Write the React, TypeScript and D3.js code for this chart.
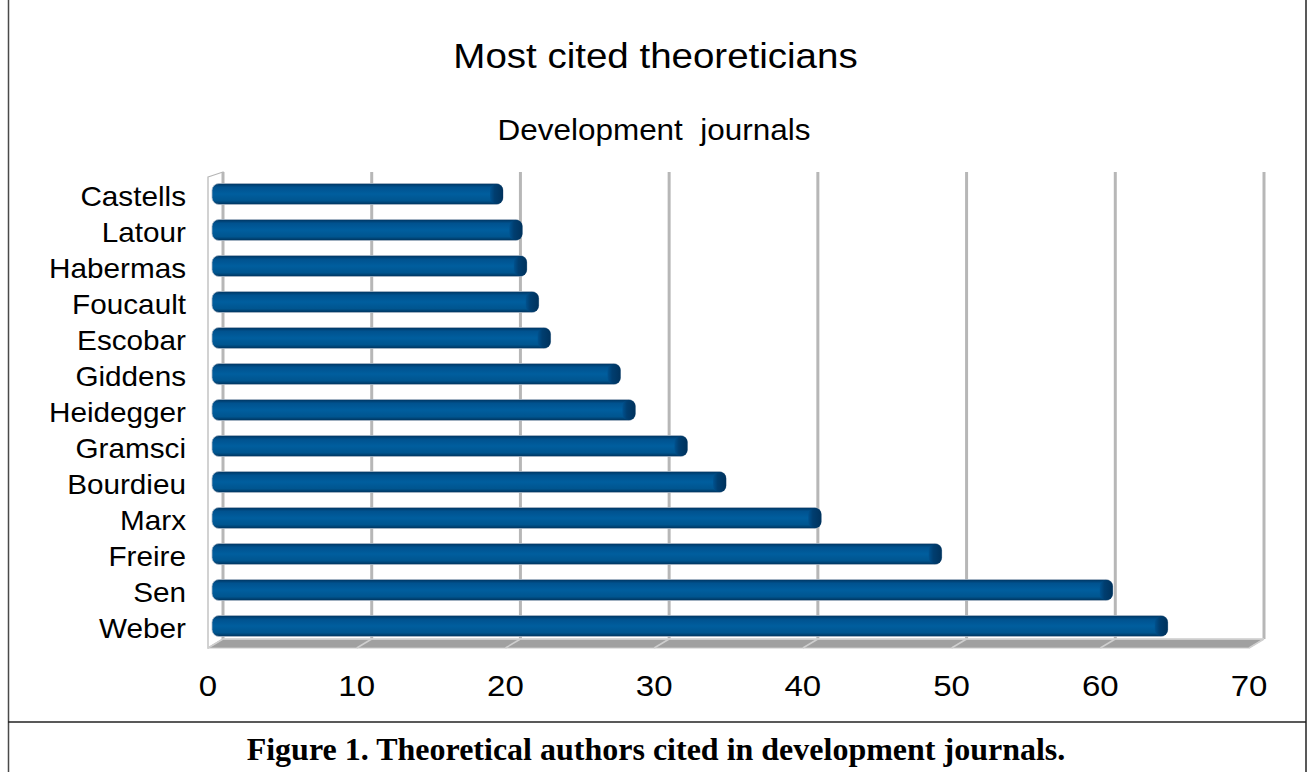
import React from "react";
import * as d3 from "d3";

const categories = [
  "Castells", "Latour", "Habermas", "Foucault", "Escobar", "Giddens",
  "Heidegger", "Gramsci", "Bourdieu", "Marx", "Freire", "Sen", "Weber",
];
const values = [19.3, 20.6, 20.9, 21.7, 22.5, 27.2, 28.2, 31.7, 34.3, 40.7, 48.8, 60.3, 64.0];
const ticks = [0, 10, 20, 30, 40, 50, 60, 70];
const title = "Most cited theoreticians";
const subtitle = "Development\u00a0 journals";
const caption = "Figure 1. Theoretical authors cited in development journals.";

const W = 1310;
const H = 772;
const SANS = "'Liberation Sans', Arial, sans-serif";
const SX = 1.1;

export default function App() {
  const x = d3.scaleLinear().domain([0, 70]).range([223, 1264]);
  const y = d3.scaleBand<string>().domain(categories).range([176, 644]).paddingInner(0);
  const depthX = -15;
  const depthY = 9;
  const gridTop = 172;
  const floorY = 639;
  const barH = 21;
  const barStart = 212;

  return (
    <div style={{ position: "absolute", left: 0, top: 0 }}>
      <svg width={W} height={H} style={{ display: "block", background: "#fff" }}>
        <defs>
          <linearGradient id="barGrad" x1="0" y1="0" x2="0" y2="1">
            <stop offset="0" stopColor="#003560" />
            <stop offset="0.18" stopColor="#00528f" />
            <stop offset="0.5" stopColor="#005e9e" />
            <stop offset="0.82" stopColor="#00558f" />
            <stop offset="1" stopColor="#00335c" />
          </linearGradient>
          <linearGradient id="capGrad" x1="0" y1="0" x2="1" y2="0">
            <stop offset="0" stopColor="#00528f" />
            <stop offset="0.35" stopColor="#003e70" />
            <stop offset="1" stopColor="#00325c" />
          </linearGradient>
        </defs>

        {/* frame */}
        <line x1={8.5} y1={0} x2={8.5} y2={H} stroke="#4a4a4a" strokeWidth={1.5} />
        <line x1={1306} y1={0} x2={1306} y2={H} stroke="#222" strokeWidth={1.5} />
        <line x1={8} y1={722} x2={1306} y2={722} stroke="#222" strokeWidth={1.5} />

        {/* titles */}
        <text transform={`translate(655.5,68) scale(${SX},1)`} textAnchor="middle"
          fontFamily={SANS} fontSize={35} fill="#000">{title}</text>
        <text transform={`translate(654,140) scale(${SX},1)`} textAnchor="middle"
          fontFamily={SANS} fontSize={28.6} fill="#000">{subtitle}</text>

        {/* left wall */}
        <polygon
          points={`${x(0) + depthX},${gridTop + 5} ${x(0)},${gridTop} ${x(0)},${floorY} ${x(0) + depthX},${floorY + depthY}`}
          fill="#fff" stroke="#b5b5b5" strokeWidth={1.2} />

        {/* gridlines */}
        {ticks.map((t) => (
          <line key={`g${t}`} x1={x(t)} x2={x(t)} y1={gridTop} y2={floorY}
            stroke="#b7b7b7" strokeWidth={3} />
        ))}

        {/* floor */}
        <polygon
          points={`${x(0)},${floorY} ${x(70)},${floorY} ${x(70) + depthX},${floorY + depthY} ${x(0) + depthX},${floorY + depthY}`}
          fill="#a0a0a0" stroke="#c8c8c8" strokeWidth={1} />
        <line x1={x(0)} x2={x(70)} y1={floorY} y2={floorY} stroke="#d4d4d4" strokeWidth={1.5} />
        {ticks.map((t) => (
          <line key={`ft${t}`} x1={x(t)} y1={floorY} x2={x(t) + depthX} y2={floorY + depthY}
            stroke="#cfcfcf" strokeWidth={1.5} />
        ))}

        {/* bars */}
        {categories.map((c, i) => {
          const cy = (y(c) as number) + y.bandwidth() / 2;
          const end = x(values[i]) - 7;
          return (
            <g key={c}>
              <rect x={barStart} y={cy - barH / 2} width={end - barStart} height={barH}
                rx={7} ry={7} fill="url(#barGrad)" stroke="#a9b8c6" strokeWidth={0.8} />
              <rect x={end - 13} y={cy - barH / 2 + 0.5} width={13} height={barH - 1}
                rx={6} ry={6} fill="url(#capGrad)" />
            </g>
          );
        })}

        {/* category labels */}
        {categories.map((c) => {
          const cy = (y(c) as number) + y.bandwidth() / 2;
          return (
            <text key={`l${c}`} transform={`translate(186,${cy + 11.5}) scale(${SX},1)`}
              textAnchor="end" fontFamily={SANS} fontSize={27} fill="#000">{c}</text>
          );
        })}

        {/* x tick labels */}
        {ticks.map((t) => (
          <text key={`t${t}`} transform={`translate(${x(t) + depthX},696) scale(${SX},1)`}
            textAnchor="middle" fontFamily={SANS} fontSize={30} fill="#000">{t}</text>
        ))}

        {/* caption */}
        <text x={656} y={760} textAnchor="middle"
          fontFamily="'Liberation Serif', 'Times New Roman', serif" fontWeight="bold"
          fontSize={32} fill="#000">{caption}</text>
      </svg>
    </div>
  );
}
